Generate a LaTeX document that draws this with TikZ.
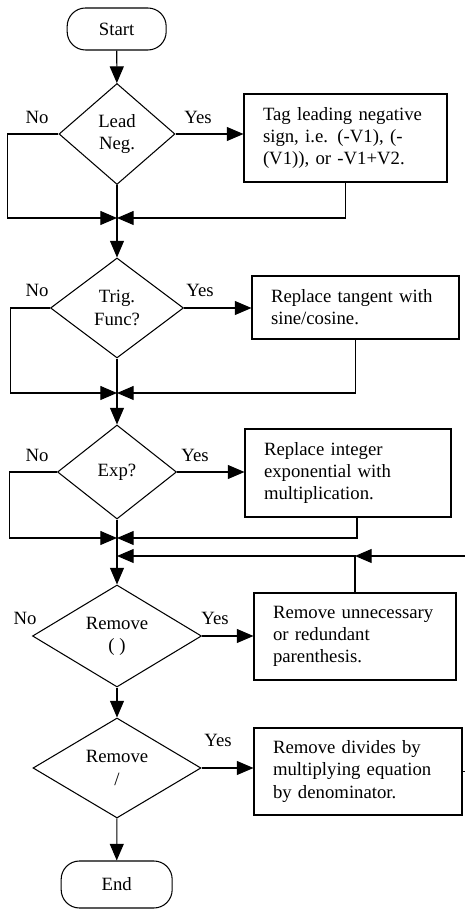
\documentclass[tikz,border=0pt]{standalone}
\usepackage{fontspec}
\setmainfont{Liberation Serif}
\usepackage{tikz}
\usetikzlibrary{arrows.meta,positioning,shapes.geometric}

\begin{document}
\begin{tikzpicture}[
  font=\fontsize{16}{19}\selectfont,
  line width=0.9pt,
  >={Triangle[length=5mm,width=4.2mm]},
  terminal/.style={draw,rounded corners=0.55cm,inner sep=0pt},
  decision/.style={draw,diamond,inner sep=0pt,align=center},
  action/.style={draw,align=left,inner xsep=0.57cm,inner ysep=0pt},
  lbl/.style={inner sep=0pt},
]
\useasboundingbox (0,0) rectangle (13.95,27.27);

% main column
\node[terminal,minimum width=2.97cm,minimum height=1.26cm] (start) at (3.5,26.4) {Start};
\node[decision,minimum width=3.48cm,minimum height=3.03cm,aspect=1.15] (lead) at (3.51,23.25) {Lead\\Neg.};
\node[decision,minimum width=3.99cm,minimum height=3.0cm,aspect=1.33] (trig) at (3.51,18.03) {Trig.\\Func?};
\node[decision,minimum width=3.57cm,minimum height=2.82cm,aspect=1.27] (exp) at (3.51,13.11) {Exp?};
\node[decision,minimum width=5.07cm,minimum height=3.06cm,aspect=1.66] (rmpar) at (3.51,8.19) {Remove\\( )};
\node[decision,minimum width=5.04cm,minimum height=3.0cm,aspect=1.68] (rmdiv) at (3.51,4.23) {Remove\\/};
\node[terminal,minimum width=3.33cm,minimum height=1.41cm] (stop) at (3.5,0.735) {End};

% actions
\node[action,text width=4.95cm,minimum height=2.64cm] (tagneg) at (10.365,23.13) {Tag leading negative\\sign, i.e. (-V1), (-\\(V1)), or -V1+V2.};
\node[action,text width=5.07cm,minimum height=1.89cm] (tanbox) at (10.665,18.045) {Replace tangent with\\sine/cosine.};
\node[action,text width=5.04cm,minimum height=2.64cm] (expbox) at (10.44,13.08) {Replace integer\\exponential with\\multiplication.};
\node[action,text width=4.92cm,minimum height=2.61cm] (parbox) at (10.65,8.175) {Remove unnecessary\\or redundant\\parenthesis.};
\node[action,text width=5.10cm,minimum height=2.61cm] (divbox) at (10.74,4.125) {Remove divides by\\multiplying equation\\by denominator.};

% labels
\node[lbl] (no1) at (1.11,23.76) {No};
\node[lbl] (yes1) at (5.94,23.76) {Yes};
\node[lbl] (no2) at (1.11,18.57) {No};
\node[lbl] (yes2) at (6.0,18.57) {Yes};
\node[lbl] (no3) at (1.11,13.62) {No};
\node[lbl] (yes3) at (5.85,13.62) {Yes};
\node[lbl] (no4) at (0.75,8.73) {No};
\node[lbl] (yes4) at (6.45,8.73) {Yes};
\node[lbl] (yes5) at (6.54,5.07) {Yes};

% junctions
\coordinate (j1) at (3.51,20.73);
\coordinate (j2) at (3.51,15.48);
\coordinate (j3) at (3.51,11.13);
\coordinate (j4) at (3.51,10.59);
\coordinate (fb) at (13.95,10.59);
\coordinate (out) at (13.95,4.125);

\draw[->] (start) -- (lead);
\draw[->] (lead) -- (trig);
\draw[->] (trig) -- (exp);
\draw[->] (exp) -- (rmpar);
\draw[->] (rmpar) -- (rmdiv);
\draw[->] (rmdiv) -- (stop);

\draw[->] (lead.east) -- (lead.east -| tagneg.west);
\draw[->] (trig.east) -- (trig.east -| tanbox.west);
\draw[->] (exp.east) -- (exp.east -| expbox.west);
\draw[->] (rmpar.east) -- (rmpar.east -| parbox.west);
\draw[->] (rmdiv.east) -- (rmdiv.east -| divbox.west);

\draw[->] (lead.west) -- ++(-1.53,0) |- (j1);
\draw[->] (tagneg.south) |- (j1);
\draw[->] (trig.west) -- ++(-1.17,0) |- (j2);
\draw[->] (tanbox.south) |- (j2);
\draw[->] (exp.west) -- ++(-1.41,0) |- (j3);
\draw[->] ([xshift=0.27cm]expbox.south) |- (j3);
\draw[->] (parbox.north) |- (j4);
\draw[->] (fb) -- (fb -| parbox.north);
\draw (divbox.east) -- (out);
\end{tikzpicture}
\end{document}
